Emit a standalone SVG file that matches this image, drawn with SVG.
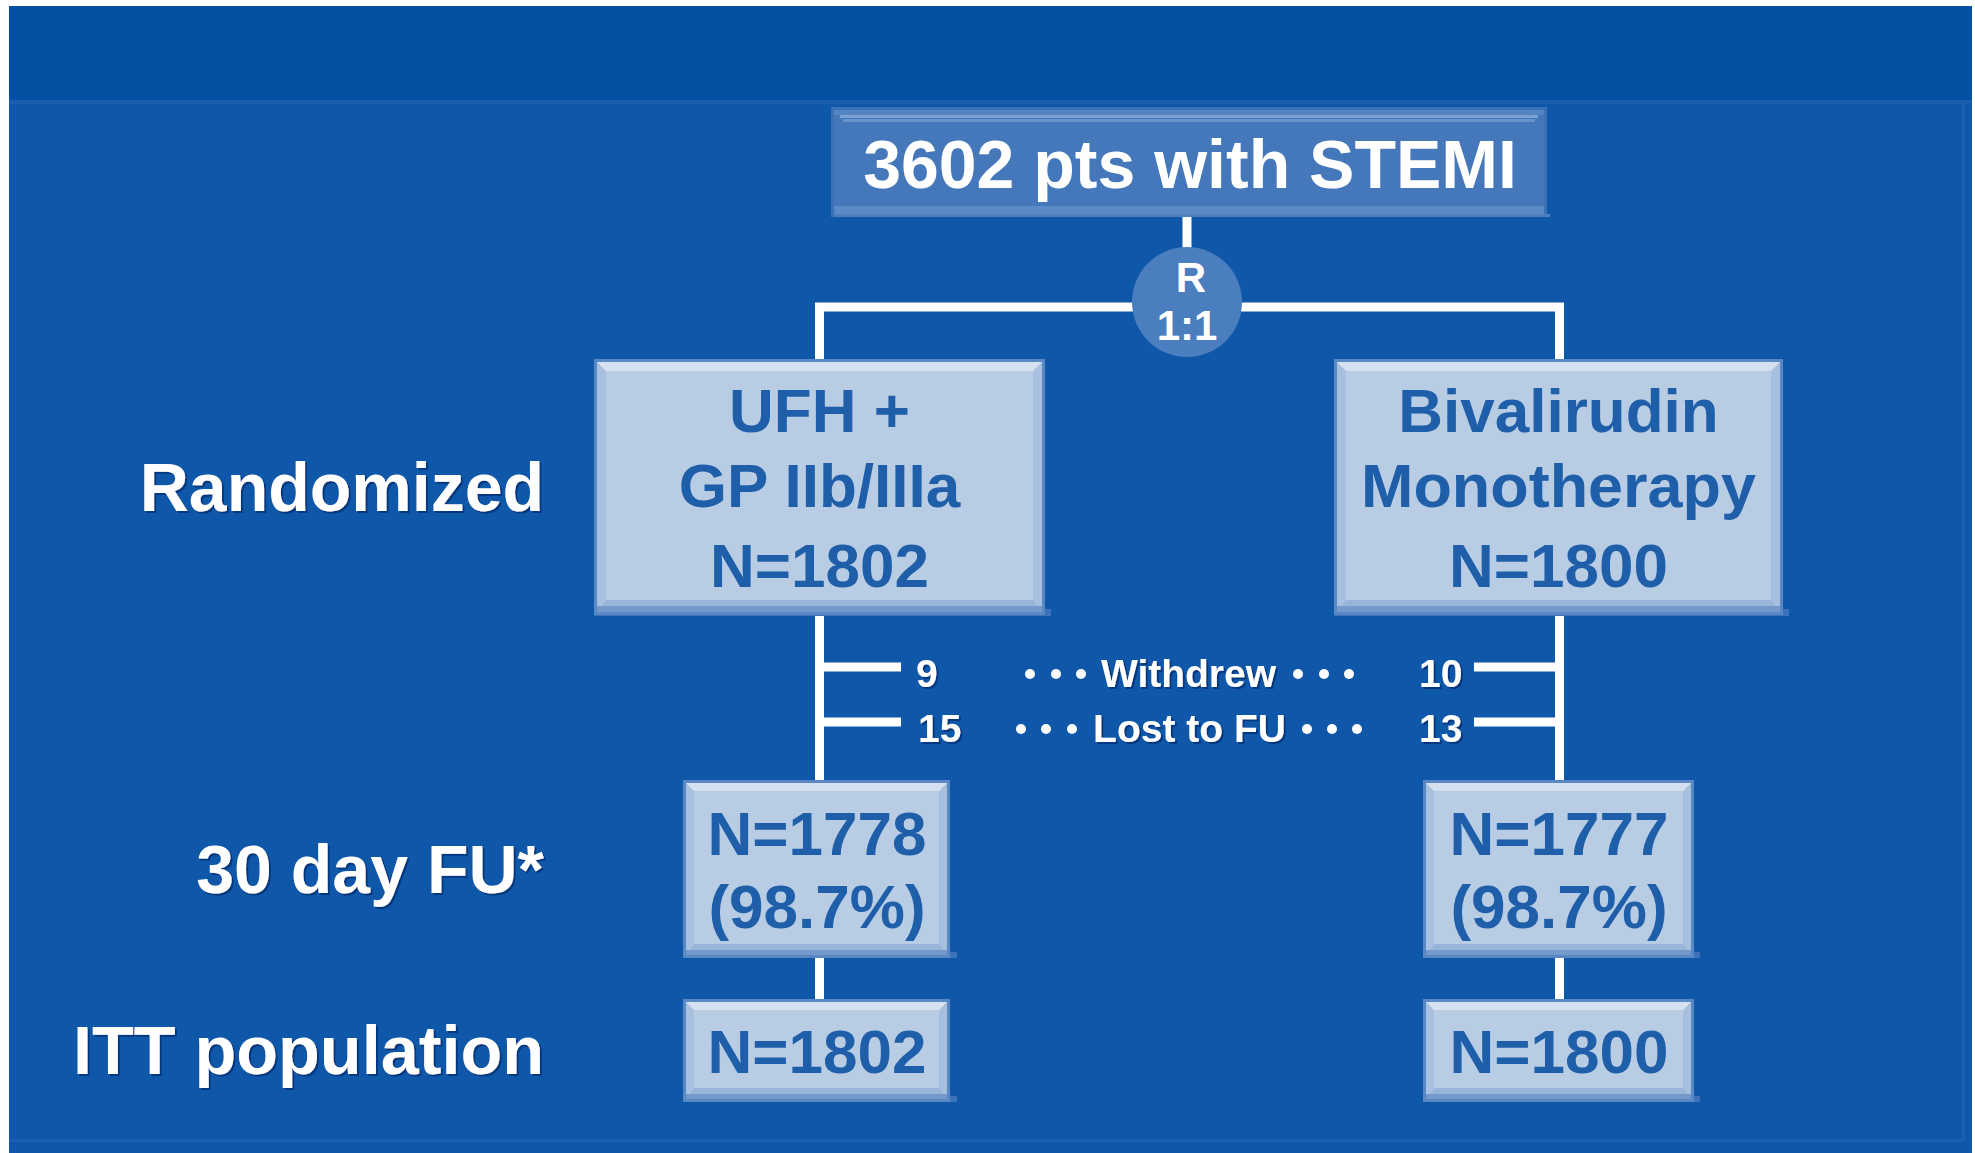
<svg xmlns="http://www.w3.org/2000/svg" width="1975" height="1153" viewBox="0 0 1975 1153">
<defs>
<style>
.bg{fill:#0F57A8}
.band{fill:#0450A3}
.edge{fill:#5A88C4}
.fill{fill:#B8CCE4}
.hl{fill:#D5E1EF}
.sd{fill:#98B4D8}
.sdk{fill:#7499CB}
.side{fill:#A8C0DF}
.shadow{fill:#3C72B8}
.tedge{fill:#3C70B4}
.tfill{fill:#4478BB}
.thl{fill:#7BA1D2}
.tsd{fill:#5B8AC7}
.btxt{font-family:"Liberation Sans",Arial,sans-serif;font-weight:bold;font-size:62px;fill:#1F5FAA;text-anchor:middle}
.wtxt{font-family:"Liberation Sans",Arial,sans-serif;font-weight:bold;fill:#FFFFFF}
.lbl{font-size:68px;text-anchor:end}
.sm{font-size:39px}
.conn{stroke:#FFFFFF;stroke-width:9;fill:none}
.dot{fill:#FFFFFF}
</style>
<filter id="ts" x="-5%" y="-20%" width="110%" height="140%">
<feDropShadow dx="2" dy="2" stdDeviation="0.5" flood-color="#06367A" flood-opacity="0.9"/>
</filter>
</defs>

<!-- background -->
<rect x="0" y="0" width="1975" height="1153" fill="#FFFFFF"/>
<rect class="bg" x="9" y="6" width="1963" height="1147"/>
<rect class="band" x="9" y="6" width="1963" height="94"/>
<rect x="9" y="100" width="1963" height="4" fill="#1A5DAC"/>
<rect x="1962" y="104" width="3" height="1038" fill="#1B5EAD"/>
<rect x="9" y="1139" width="1956" height="3" fill="#1B5EAD"/>

<!-- connectors -->
<g id="connectors">
<line class="conn" x1="1187" y1="217" x2="1187" y2="252"/>
<path class="conn" d="M819.5,359 V307 H1559.5 V359"/>
<line class="conn" x1="819.5" y1="616" x2="819.5" y2="780"/>
<line class="conn" x1="819.5" y1="667" x2="901" y2="667"/>
<line class="conn" x1="819.5" y1="722" x2="901" y2="722"/>
<line class="conn" x1="1559.5" y1="616" x2="1559.5" y2="780"/>
<line class="conn" x1="1474" y1="667" x2="1559.5" y2="667"/>
<line class="conn" x1="1474" y1="722" x2="1559.5" y2="722"/>
<line class="conn" x1="819.5" y1="958" x2="819.5" y2="999"/>
<line class="conn" x1="1559.5" y1="958" x2="1559.5" y2="999"/>
<g id="dots">
<circle class="dot" cx="1030" cy="674" r="5"/>
<circle class="dot" cx="1056" cy="674" r="5"/>
<circle class="dot" cx="1081" cy="674" r="5"/>
<circle class="dot" cx="1298" cy="674" r="5"/>
<circle class="dot" cx="1324" cy="674" r="5"/>
<circle class="dot" cx="1349" cy="674" r="5"/>
<circle class="dot" cx="1021" cy="729" r="5"/>
<circle class="dot" cx="1046" cy="729" r="5"/>
<circle class="dot" cx="1072" cy="729" r="5"/>
<circle class="dot" cx="1307" cy="729" r="5"/>
<circle class="dot" cx="1332" cy="729" r="5"/>
<circle class="dot" cx="1357" cy="729" r="5"/>
</g>
</g>

<!-- top node -->
<g id="node-stemi">
<rect class="tedge" x="831" y="107" width="716" height="110"/>
<rect class="tfill" x="834" y="110" width="710" height="104"/>
<rect x="834" y="110" width="710" height="5" fill="#5584C2"/>
<rect class="thl" x="840" y="115" width="698" height="3"/>
<rect x="843" y="119" width="692" height="3" fill="#6A93CB"/>
<rect class="tsd" x="834" y="206" width="710" height="8"/>
<rect x="834" y="214" width="716" height="3" fill="#4E7FC0"/>
<text class="wtxt" x="1190" y="188" font-size="68" text-anchor="middle">3602 pts with STEMI</text>
</g>

<!-- randomization circle -->
<g id="node-random">
<circle cx="1187" cy="302" r="55" fill="#4A7EBF"/>
<text class="wtxt" x="1191" y="292" font-size="42" text-anchor="middle">R</text>
<text class="wtxt" x="1187" y="340" font-size="42" text-anchor="middle">1:1</text>
</g>

<!-- left labels -->
<g id="label-randomized" filter="url(#ts)">
<text class="wtxt lbl" x="544" y="511">Randomized</text>
</g>
<g id="label-30day" filter="url(#ts)">
<text class="wtxt lbl" x="544" y="893">30 day FU*</text>
</g>
<g id="label-itt" filter="url(#ts)">
<text class="wtxt lbl" x="544" y="1074" textLength="471" lengthAdjust="spacingAndGlyphs">ITT population</text>
</g>

<!-- UFH box -->
<g id="node-ufh">
<rect class="shadow" x="594" y="609" width="457" height="7"/>
<rect class="edge" x="594" y="359" width="451" height="256"/>
<rect class="fill" x="597" y="362" width="445" height="250"/>
<polygon class="side" points="597,362 606,371 606,600 597,612"/>
<polygon class="side" points="1042,362 1033,371 1033,600 1042,612"/>
<polygon class="hl" points="597,362 1042,362 1033,371 606,371"/>
<polygon class="sd" points="597,612 1042,612 1033,600 606,600"/>
<rect class="sdk" x="597" y="606" width="445" height="6"/>
<text class="btxt" x="819.5" y="432">UFH +</text>
<text class="btxt" x="819.5" y="507">GP IIb/IIIa</text>
<text class="btxt" x="819.5" y="587">N=1802</text>
</g>

<!-- Bivalirudin box -->
<g id="node-biv">
<rect class="shadow" x="1334" y="609" width="455" height="7"/>
<rect class="edge" x="1334" y="359" width="449" height="256"/>
<rect class="fill" x="1337" y="362" width="443" height="250"/>
<polygon class="side" points="1337,362 1346,371 1346,600 1337,612"/>
<polygon class="side" points="1780,362 1771,371 1771,600 1780,612"/>
<polygon class="hl" points="1337,362 1780,362 1771,371 1346,371"/>
<polygon class="sd" points="1337,612 1780,612 1771,600 1346,600"/>
<rect class="sdk" x="1337" y="606" width="443" height="6"/>
<text class="btxt" x="1558.5" y="432">Bivalirudin</text>
<text class="btxt" x="1558.5" y="507" textLength="395" lengthAdjust="spacingAndGlyphs">Monotherapy</text>
<text class="btxt" x="1558.5" y="587">N=1800</text>
</g>

<!-- 30 day left -->
<g id="node-fu-left">
<rect class="shadow" x="683" y="952" width="274" height="6"/>
<rect class="edge" x="683" y="780" width="267" height="178"/>
<rect class="fill" x="686" y="783" width="261" height="172"/>
<polygon class="side" points="686,783 694,791 694,944 686,955"/>
<polygon class="side" points="947,783 939,791 939,944 947,955"/>
<polygon class="hl" points="686,783 947,783 939,791 694,791"/>
<polygon class="sd" points="686,955 947,955 939,944 694,944"/>
<rect class="sdk" x="686" y="950" width="261" height="5"/>
<text class="btxt" x="817" y="855">N=1778</text>
<text class="btxt" x="817" y="928">(98.7%)</text>
</g>

<!-- 30 day right -->
<g id="node-fu-right">
<rect class="shadow" x="1423" y="952" width="277" height="6"/>
<rect class="edge" x="1423" y="780" width="271" height="178"/>
<rect class="fill" x="1426" y="783" width="265" height="172"/>
<polygon class="side" points="1426,783 1434,791 1434,944 1426,955"/>
<polygon class="side" points="1691,783 1683,791 1683,944 1691,955"/>
<polygon class="hl" points="1426,783 1691,783 1683,791 1434,791"/>
<polygon class="sd" points="1426,955 1691,955 1683,944 1434,944"/>
<rect class="sdk" x="1426" y="950" width="265" height="5"/>
<text class="btxt" x="1559" y="855">N=1777</text>
<text class="btxt" x="1559" y="928">(98.7%)</text>
</g>

<!-- ITT left -->
<g id="node-itt-left">
<rect class="shadow" x="683" y="1096" width="274" height="6"/>
<rect class="edge" x="683" y="999" width="267" height="103"/>
<rect class="fill" x="686" y="1002" width="261" height="97"/>
<polygon class="side" points="686,1002 694,1010 694,1088 686,1099"/>
<polygon class="side" points="947,1002 939,1010 939,1088 947,1099"/>
<polygon class="hl" points="686,1002 947,1002 939,1010 694,1010"/>
<polygon class="sd" points="686,1099 947,1099 939,1088 694,1088"/>
<rect class="sdk" x="686" y="1094" width="261" height="5"/>
<text class="btxt" x="817" y="1073">N=1802</text>
</g>

<!-- ITT right -->
<g id="node-itt-right">
<rect class="shadow" x="1423" y="1096" width="277" height="6"/>
<rect class="edge" x="1423" y="999" width="271" height="103"/>
<rect class="fill" x="1426" y="1002" width="265" height="97"/>
<polygon class="side" points="1426,1002 1434,1010 1434,1088 1426,1099"/>
<polygon class="side" points="1691,1002 1683,1010 1683,1088 1691,1099"/>
<polygon class="hl" points="1426,1002 1691,1002 1683,1010 1434,1010"/>
<polygon class="sd" points="1426,1099 1691,1099 1683,1088 1434,1088"/>
<rect class="sdk" x="1426" y="1094" width="265" height="5"/>
<text class="btxt" x="1559" y="1073">N=1800</text>
</g>

<!-- attrition labels -->
<g id="attrition" filter="url(#ts)">
<text class="wtxt sm" x="916" y="687">9</text>
<text class="wtxt sm" x="918" y="742">15</text>
<text class="wtxt sm" x="1419" y="687">10</text>
<text class="wtxt sm" x="1419" y="742">13</text>
<text class="wtxt sm" x="1188.5" y="687" text-anchor="middle">Withdrew</text>
<text class="wtxt sm" x="1189.5" y="742" text-anchor="middle">Lost to FU</text>
</g>
</svg>
